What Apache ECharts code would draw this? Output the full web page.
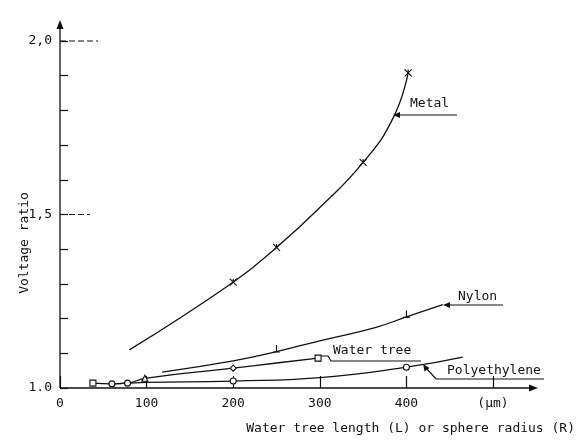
<!DOCTYPE html>
<html><head><meta charset="utf-8">
<script src="https://cdn.jsdelivr.net/npm/echarts@6/dist/echarts.min.js"></script>
<style>html,body{margin:0;padding:0;background:#fff}#c{width:579px;height:441px}</style>
</head><body><div id="c"></div>
<script>
// ---- data ----
const metalL = [80, 200, 250, 300, 350, 385, 402];
const metalV = [1.11, 1.305, 1.405, 1.52, 1.65, 1.78, 1.908];
const metalMarked = [200, 250, 350, 402];

const nylonL = [118, 200, 250, 300, 365, 400, 442];
const nylonV = [1.046, 1.078, 1.105, 1.136, 1.175, 1.205, 1.24];
const nylonMarked = [250, 400];

const waterL = [38, 60, 78, 98, 200, 250, 298];
const waterV = [1.014, 1.012, 1.014, 1.028, 1.057, 1.072, 1.086];
const waterMarked = [38, 98, 200, 298];

const polyL = [60, 78, 100, 200, 300, 400, 465];
const polyV = [1.012, 1.014, 1.016, 1.02, 1.03, 1.06, 1.089];
const polyMarked = [60, 78, 200, 400];

const yTickLabels = {"1": "1.0", "1.5": "1,5", "2": "2,0"};
const xUnitLabel = "(µm)";
const xTitle = "Water tree length (L) or sphere radius (R)";
const yTitle = "Voltage ratio";
const seriesNames = ["Metal", "Nylon", "Water tree", "Polyethylene"];

// ---- chart ----
const INK = '#111';
const FONT = '"DejaVu Sans Mono", monospace';
const pairs = (xs, ys) => xs.map((x, i) => [x, ys[i]]);
const crossPath = 'path://M0,0L10,10M10,0L0,10M5,0L5,4';
const tickPath = 'path://M5,0L5,10M0,10L10,10';

function markSym(marked, sym) {
  return function (val) { return marked.indexOf(val[0]) >= 0 ? sym : 'none'; };
}
const waterSyms = {38: 'rect', 98: 'triangle', 200: 'diamond', 298: 'rect'};

const chart = echarts.init(document.getElementById('c'), null, {renderer: 'canvas'});
const base = {
  type: 'line', smooth: 0.5,
  lineStyle: {color: INK, width: 1.3},
  itemStyle: {color: '#fff', borderColor: INK, borderWidth: 1.1},
  symbolSize: 6, showAllSymbol: true, animation: false, z: 3
};
chart.setOption({
  backgroundColor: '#fff',
  animation: false,
  grid: {left: 60, right: 86, top: 41, bottom: 53},
  xAxis: {
    type: 'value', min: 0, max: 500, interval: 100,
    axisLine: {show: false},
    axisTick: {show: true, inside: true, length: 12, lineStyle: {color: INK, width: 1.2}},
    splitLine: {show: false},
    axisLabel: {
      margin: 9, color: INK, fontFamily: FONT, fontSize: 13,
      formatter: v => v === 500 ? xUnitLabel : String(v)
    }
  },
  yAxis: {
    type: 'value', min: 1.0, max: 2.0, interval: 0.1,
    axisLine: {show: false},
    axisTick: {show: true, inside: true, length: 8, lineStyle: {color: INK, width: 1.2}},
    splitLine: {show: false},
    axisLabel: {
      margin: 8, color: INK, fontFamily: FONT, fontSize: 13,
      formatter: v => { const k = String(Math.round(v * 10) / 10); return yTickLabels[k] || ''; }
    }
  },
  series: [
    Object.assign({}, base, {name: seriesNames[0], data: pairs(metalL, metalV),
      symbol: markSym(metalMarked, crossPath), symbolSize: 7}),
    Object.assign({}, base, {name: seriesNames[1], data: pairs(nylonL, nylonV),
      symbol: markSym(nylonMarked, tickPath), symbolSize: 7, symbolOffset: [0, -3]}),
    Object.assign({}, base, {name: seriesNames[2], data: pairs(waterL, waterV),
      symbol: v => waterSyms[v[0]] || 'none', symbolSize: 6}),
    Object.assign({}, base, {name: seriesNames[3], data: pairs(polyL, polyV),
      symbol: markSym(polyMarked, 'circle'), symbolSize: 6})
  ]
});

// ---- annotations & axis lines ----
const P = (x, y) => chart.convertToPixel({gridIndex: 0}, [x, y]);
const o = P(0, 1.0);
const y20 = P(0, 2.0)[1], y15 = P(0, 1.5)[1];
const txt = (x, y, s, extra) => Object.assign({type: 'text', x: x, y: y,
  style: {text: s, fill: INK, font: '13px ' + FONT, textVerticalAlign: 'middle'}}, extra || {});
const poly = (pts, dash, w) => ({type: 'polyline', shape: {points: pts},
  style: {stroke: INK, lineWidth: w || 1.2, fill: null, lineDash: dash || null}});
const head = (x, y, dx, dy, L, W) => {
  L = L || 7; W = W || 3;
  const n = Math.hypot(dx, dy), ux = dx / n, uy = dy / n;
  return {type: 'polygon', shape: {points: [[x, y], [x - ux * L - uy * W, y - uy * L + ux * W], [x - ux * L + uy * W, y - uy * L - ux * W]]},
    style: {fill: INK}};
};
chart.setOption({graphic: [
  // axes
  poly([[o[0], o[1]], [o[0], 26]], null, 1.3), head(o[0], 20, 0, -1, 9, 3.5),
  poly([[o[0], o[1]], [531, o[1]]], null, 1.4), head(538, o[1], 1, 0, 9, 3.5),
  poly([[o[0], y20], [o[0] + 38, y20]], [6, 3]),
  poly([[o[0], y15], [o[0] + 30, y15]], [6, 3]),
  // Metal
  txt(410, 104, seriesNames[0]),
  poly([[395, 115], [457, 115]]), head(393, 115, -1, 0),
  // Nylon
  txt(458, 297, seriesNames[1]),
  poly([[445, 305], [503, 305]]), head(443, 305, -1, 0),
  // Water tree
  txt(333, 351, seriesNames[2]),
  poly([[318, 356], [328, 356], [331, 361], [421, 361]]),
  // Polyethylene
  txt(447, 371, seriesNames[3]),
  poly([[426, 368], [436, 379], [544, 379]]), head(423, 364, -0.7, -1),
  // axis titles
  txt(575, 429, xTitle, {style: {text: xTitle, fill: INK, font: '13px ' + FONT, textAlign: 'right', textVerticalAlign: 'middle'}}),
  {type: 'text', x: 25, y: 243, rotation: Math.PI / 2,
   style: {text: yTitle, fill: INK, font: '13px ' + FONT, textAlign: 'center', textVerticalAlign: 'middle'}}
]});
</script></body></html>
